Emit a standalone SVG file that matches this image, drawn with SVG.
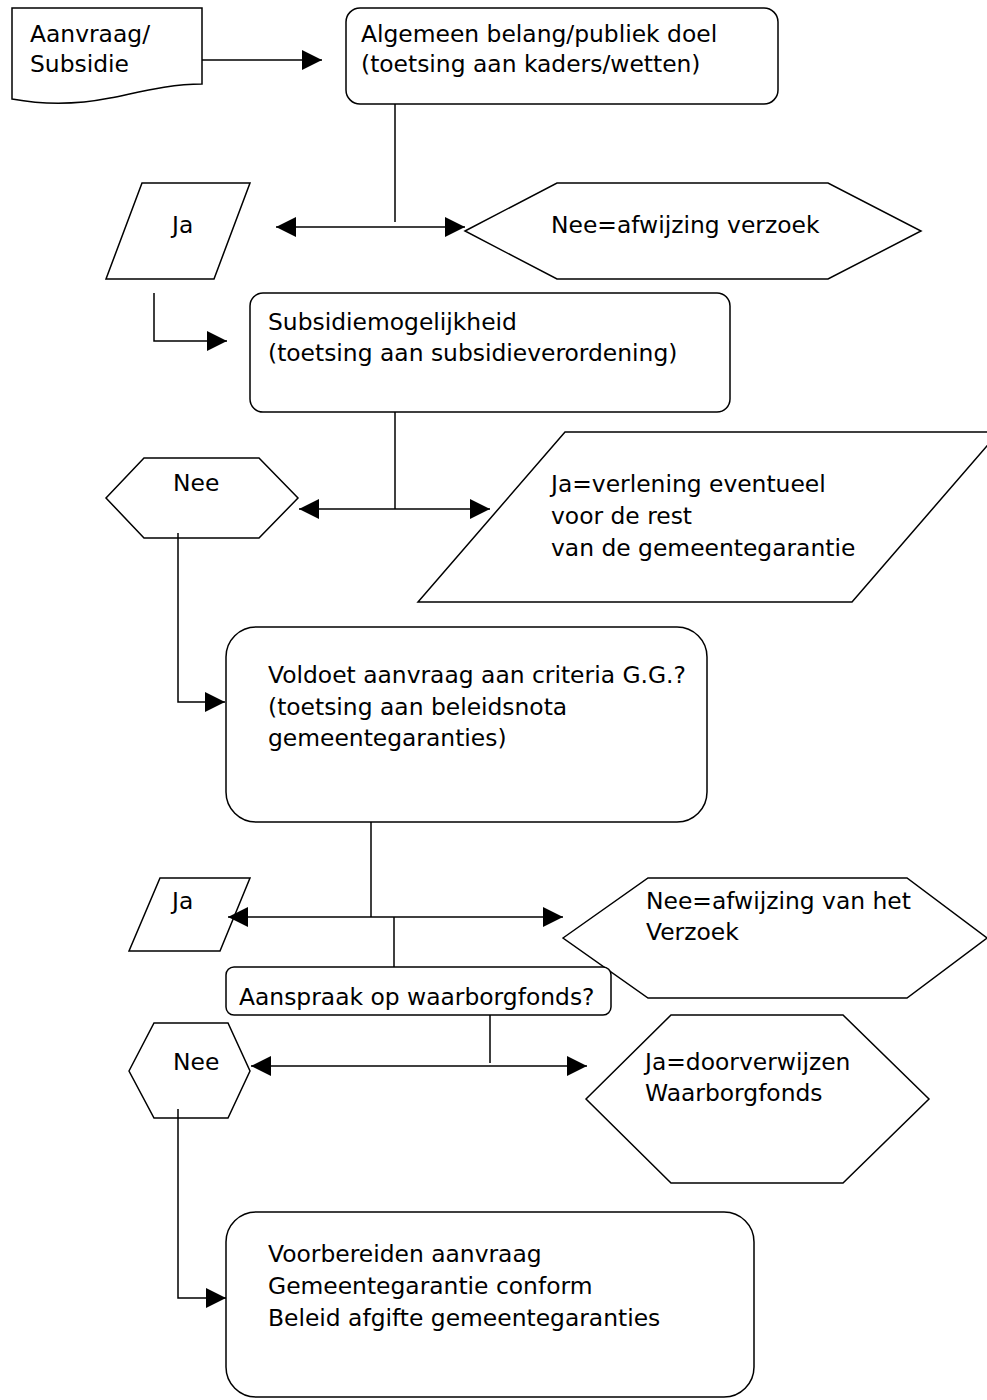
<svg xmlns="http://www.w3.org/2000/svg" width="987" height="1400" viewBox="0 0 987 1400">
<style>
.n{fill:#fff;stroke:#000;stroke-width:1.5}
.t{font-family:"DejaVu Sans",Verdana,sans-serif;font-size:23.4px;fill:#000}
.c{fill:none;stroke:#000;stroke-width:1.5}
</style>
<defs>
<marker id="ah" viewBox="0 0 20 20" refX="20" refY="10" markerWidth="20" markerHeight="20" markerUnits="userSpaceOnUse" orient="auto-start-reverse">
<path d="M0,0 L20,10 L0,20 z" fill="#000"/>
</marker>
</defs>
<rect width="987" height="1400" fill="#fff"/>
<g id="n-aanvraag">
<path class="n" d="M12,8 H202 V84 C170,84 140,92 110,98 C80,104 45,105 12,99 Z"/>
<text class="t" x="30" y="42">Aanvraag/</text>
<text class="t" x="30" y="72">Subsidie</text>
</g>
<g id="n-algemeen">
<rect class="n" x="346" y="8" width="432" height="96" rx="14"/>
<text class="t" x="361" y="42">Algemeen belang/publiek doel</text>
<text class="t" x="361" y="72">(toetsing aan kaders/wetten)</text>
</g>
<g id="n-ja1">
<polygon class="n" points="142,183 250,183 214,279 106,279"/>
<text class="t" x="172" y="233">Ja</text>
</g>
<g id="n-nee1">
<polygon class="n" points="465,231 557,183 828,183 921,231 828,279 557,279"/>
<text class="t" x="551" y="233">Nee=afwijzing verzoek</text>
</g>
<g id="n-subsidie">
<rect class="n" x="250" y="293" width="480" height="119" rx="13"/>
<text class="t" x="268" y="330">Subsidiemogelijkheid</text>
<text class="t" x="268" y="361">(toetsing aan subsidieverordening)</text>
</g>
<g id="n-nee2">
<polygon class="n" points="106,498 144,458 259,458 298,498 259,538 144,538"/>
<text class="t" x="173" y="491">Nee</text>
</g>
<g id="n-ja2">
<polygon class="n" points="565,432 999,432 852,602 418,602"/>
<text class="t" x="551" y="492">Ja=verlening eventueel</text>
<text class="t" x="551" y="524">voor de rest</text>
<text class="t" x="551" y="556">van de gemeentegarantie</text>
</g>
<g id="n-voldoet">
<rect class="n" x="226" y="627" width="481" height="195" rx="30"/>
<text class="t" x="268" y="683">Voldoet aanvraag aan criteria G.G.?</text>
<text class="t" x="268" y="715">(toetsing aan beleidsnota</text>
<text class="t" x="268" y="746">gemeentegaranties)</text>
</g>
<g id="n-ja3">
<polygon class="n" points="160,878 250,878 220,951 129,951"/>
<text class="t" x="172" y="909">Ja</text>
</g>
<g id="n-nee3">
<polygon class="n" points="563,938 648,878 907,878 987,938 907,998 648,998"/>
<text class="t" x="646" y="909">Nee=afwijzing van het</text>
<text class="t" x="646" y="940">Verzoek</text>
</g>
<g id="n-aanspraak">
<rect class="n" x="226" y="967" width="385" height="48" rx="8"/>
<text class="t" x="239" y="1005">Aanspraak op waarborgfonds?</text>
</g>
<g id="n-nee4">
<polygon class="n" points="129,1071 154,1023 228,1023 250,1071 228,1118 154,1118"/>
<text class="t" x="173" y="1070">Nee</text>
</g>
<g id="n-ja4">
<polygon class="n" points="586,1099 671,1015 843,1015 929,1099 843,1183 671,1183"/>
<text class="t" x="645" y="1070">Ja=doorverwijzen</text>
<text class="t" x="645" y="1101">Waarborgfonds</text>
</g>
<g id="n-voorbereiden">
<rect class="n" x="226" y="1212" width="528" height="185" rx="30"/>
<text class="t" x="268" y="1262">Voorbereiden aanvraag</text>
<text class="t" x="268" y="1294">Gemeentegarantie conform</text>
<text class="t" x="268" y="1326">Beleid afgifte gemeentegaranties</text>
</g>
<g id="connectors">
<path class="c" d="M202,60 H322" marker-end="url(#ah)"/>
<path class="c" d="M395,104 V222"/>
<path class="c" d="M276,227 H465" marker-start="url(#ah)" marker-end="url(#ah)"/>
<path class="c" d="M154,293 V341 H227" marker-end="url(#ah)"/>
<path class="c" d="M395,412 V509"/>
<path class="c" d="M299,509 H490" marker-start="url(#ah)" marker-end="url(#ah)"/>
<path class="c" d="M178,533 V702 H225" marker-end="url(#ah)"/>
<path class="c" d="M371,822 V917"/>
<path class="c" d="M228,917 H563" marker-start="url(#ah)" marker-end="url(#ah)"/>
<path class="c" d="M394,917 V967"/>
<path class="c" d="M490,1015 V1063"/>
<path class="c" d="M251,1066 H587" marker-start="url(#ah)" marker-end="url(#ah)"/>
<path class="c" d="M178,1109 V1298 H226" marker-end="url(#ah)"/>
</g>
</svg>
